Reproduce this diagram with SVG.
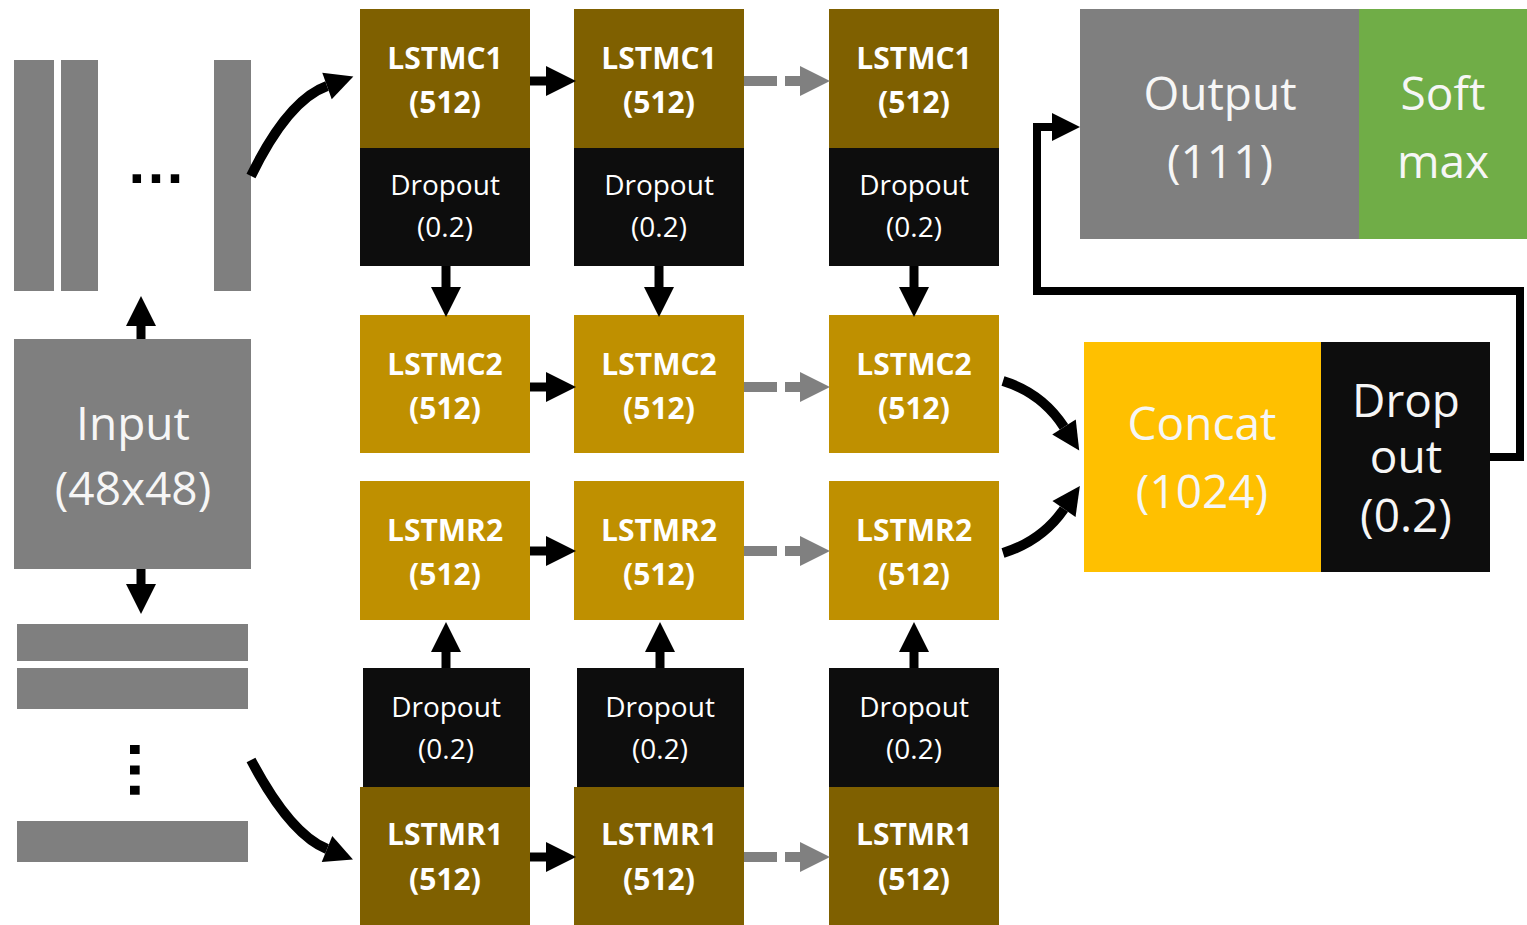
<svg xmlns="http://www.w3.org/2000/svg" width="1527" height="925" viewBox="0 0 1527 925">
  <defs>
    <style>
      .bg { fill: #ffffff; }
      .gray { fill: #7f7f7f; }
      .lstm1 { fill: #7f6000; }
      .lstm2 { fill: #bf9000; }
      .drop { fill: #0d0d0d; }
      .concat { fill: #ffc000; }
      .soft { fill: #70ad47; }
      .lbl { font-family: "Open Sans", "Liberation Sans", sans-serif; fill: #ffffff; text-anchor: middle; }
      .lstm-t { font-size: 30px; font-weight: bold; }
      .drop-t { font-size: 28px; }
      .big-t { font-size: 46px; fill: #f6f6f6; }
      .dots { font-family: "Liberation Sans", sans-serif; font-weight: bold; fill: #000000; text-anchor: middle; }
      .arr { fill: none; stroke: #000000; stroke-width: 9; }
      .curve { fill: none; stroke: #000000; stroke-width: 10; }
      .dash { fill: none; stroke: #808080; stroke-width: 10; stroke-dasharray: 33 8; }
      .loop { fill: none; stroke: #000000; stroke-width: 8; stroke-linejoin: miter; }
    </style>
    <marker id="head" markerUnits="userSpaceOnUse" markerWidth="30" markerHeight="30" refX="0" refY="15" orient="auto" overflow="visible">
      <path d="M0,0 L30,15 L0,30 Z" fill="#000000"/>
    </marker>
    <marker id="head-gray" markerUnits="userSpaceOnUse" markerWidth="30" markerHeight="30" refX="0" refY="15" orient="auto" overflow="visible">
      <path d="M0,0 L30,15 L0,30 Z" fill="#808080"/>
    </marker>
    <marker id="head-s" markerUnits="userSpaceOnUse" markerWidth="28" markerHeight="28" refX="0" refY="14" orient="auto" overflow="visible">
      <path d="M0,0 L28,14 L0,28 Z" fill="#000000"/>
    </marker>
  </defs>

  <rect class="bg" x="0" y="0" width="1527" height="925"/>

  <!-- input image sliced into columns -->
  <g id="col-slices">
    <rect class="gray" x="14" y="60" width="40" height="231"/>
    <rect class="gray" x="61" y="60" width="37" height="231"/>
    <rect class="gray" x="214" y="60" width="37" height="231"/>
    <text class="dots" x="156" y="183" font-size="60">…</text>
  </g>

  <!-- input image -->
  <g id="input">
    <rect class="gray" x="14" y="339" width="237" height="230"/>
    <text class="lbl big-t" x="133" y="440">Input</text>
    <text class="lbl big-t" x="133" y="505">(48x48)</text>
  </g>

  <!-- input image sliced into rows -->
  <g id="row-slices">
    <rect class="gray" x="17" y="624" width="231" height="37"/>
    <rect class="gray" x="17" y="668" width="231" height="41"/>
    <rect class="gray" x="17" y="821" width="231" height="41"/>
    <text class="dots" font-size="64" transform="translate(130,770) rotate(90)">…</text>
  </g>

  <!-- column LSTM, layer 1 with dropout -->
  <g id="lstmc1-a">
    <rect class="lstm1" x="360" y="9" width="170" height="139"/>
    <text class="lbl lstm-t" x="445" y="69">LSTMC1</text>
    <text class="lbl lstm-t" x="445" y="113">(512)</text>
    <rect class="drop" x="360" y="148" width="170" height="118"/>
    <text class="lbl drop-t" x="445" y="195">Dropout</text>
    <text class="lbl drop-t" x="445" y="237">(0.2)</text>
  </g>
  <g id="lstmc1-b">
    <rect class="lstm1" x="574" y="9" width="170" height="139"/>
    <text class="lbl lstm-t" x="659" y="69">LSTMC1</text>
    <text class="lbl lstm-t" x="659" y="113">(512)</text>
    <rect class="drop" x="574" y="148" width="170" height="118"/>
    <text class="lbl drop-t" x="659" y="195">Dropout</text>
    <text class="lbl drop-t" x="659" y="237">(0.2)</text>
  </g>
  <g id="lstmc1-c">
    <rect class="lstm1" x="829" y="9" width="170" height="139"/>
    <text class="lbl lstm-t" x="914" y="69">LSTMC1</text>
    <text class="lbl lstm-t" x="914" y="113">(512)</text>
    <rect class="drop" x="829" y="148" width="170" height="118"/>
    <text class="lbl drop-t" x="914" y="195">Dropout</text>
    <text class="lbl drop-t" x="914" y="237">(0.2)</text>
  </g>

  <!-- column LSTM, layer 2 -->
  <g id="lstmc2-a">
    <rect class="lstm2" x="360" y="315" width="170" height="138"/>
    <text class="lbl lstm-t" x="445" y="375">LSTMC2</text>
    <text class="lbl lstm-t" x="445" y="419">(512)</text>
  </g>
  <g id="lstmc2-b">
    <rect class="lstm2" x="574" y="315" width="170" height="138"/>
    <text class="lbl lstm-t" x="659" y="375">LSTMC2</text>
    <text class="lbl lstm-t" x="659" y="419">(512)</text>
  </g>
  <g id="lstmc2-c">
    <rect class="lstm2" x="829" y="315" width="170" height="138"/>
    <text class="lbl lstm-t" x="914" y="375">LSTMC2</text>
    <text class="lbl lstm-t" x="914" y="419">(512)</text>
  </g>

  <!-- row LSTM, layer 2 -->
  <g id="lstmr2-a">
    <rect class="lstm2" x="360" y="481" width="170" height="139"/>
    <text class="lbl lstm-t" x="445" y="541">LSTMR2</text>
    <text class="lbl lstm-t" x="445" y="585">(512)</text>
  </g>
  <g id="lstmr2-b">
    <rect class="lstm2" x="574" y="481" width="170" height="139"/>
    <text class="lbl lstm-t" x="659" y="541">LSTMR2</text>
    <text class="lbl lstm-t" x="659" y="585">(512)</text>
  </g>
  <g id="lstmr2-c">
    <rect class="lstm2" x="829" y="481" width="170" height="139"/>
    <text class="lbl lstm-t" x="914" y="541">LSTMR2</text>
    <text class="lbl lstm-t" x="914" y="585">(512)</text>
  </g>

  <!-- row LSTM, layer 1 with dropout -->
  <g id="lstmr1-a">
    <rect class="drop" x="363" y="668" width="167" height="119"/>
    <text class="lbl drop-t" x="446" y="717">Dropout</text>
    <text class="lbl drop-t" x="446" y="759">(0.2)</text>
    <rect class="lstm1" x="360" y="787" width="170" height="138"/>
    <text class="lbl lstm-t" x="445" y="845">LSTMR1</text>
    <text class="lbl lstm-t" x="445" y="890">(512)</text>
  </g>
  <g id="lstmr1-b">
    <rect class="drop" x="577" y="668" width="167" height="119"/>
    <text class="lbl drop-t" x="660" y="717">Dropout</text>
    <text class="lbl drop-t" x="660" y="759">(0.2)</text>
    <rect class="lstm1" x="574" y="787" width="170" height="138"/>
    <text class="lbl lstm-t" x="659" y="845">LSTMR1</text>
    <text class="lbl lstm-t" x="659" y="890">(512)</text>
  </g>
  <g id="lstmr1-c">
    <rect class="drop" x="829" y="668" width="170" height="119"/>
    <text class="lbl drop-t" x="914" y="717">Dropout</text>
    <text class="lbl drop-t" x="914" y="759">(0.2)</text>
    <rect class="lstm1" x="829" y="787" width="170" height="138"/>
    <text class="lbl lstm-t" x="914" y="845">LSTMR1</text>
    <text class="lbl lstm-t" x="914" y="890">(512)</text>
  </g>

  <!-- merge and dropout -->
  <g id="concat">
    <rect class="concat" x="1084" y="342" width="237" height="230"/>
    <text class="lbl big-t" x="1202" y="440">Concat</text>
    <text class="lbl big-t" x="1202" y="508">(1024)</text>
    <rect class="drop" x="1321" y="342" width="169" height="230"/>
    <text class="lbl big-t" x="1406" y="417">Drop</text>
    <text class="lbl big-t" x="1406" y="473">out</text>
    <text class="lbl big-t" x="1406" y="532">(0.2)</text>
  </g>

  <!-- output layer -->
  <g id="output">
    <rect class="gray" x="1080" y="9" width="279" height="230"/>
    <text class="lbl big-t" x="1220" y="110">Output</text>
    <text class="lbl big-t" x="1220" y="178">(111)</text>
    <rect class="soft" x="1359" y="9" width="168" height="230"/>
    <text class="lbl big-t" x="1443" y="110">Soft</text>
    <text class="lbl big-t" x="1443" y="178">max</text>
  </g>

  <g id="connectors">
    <!-- input to slices -->
    <line class="arr" x1="141" y1="339" x2="141" y2="326" marker-end="url(#head)"/>
    <line class="arr" x1="141" y1="569" x2="141" y2="584" marker-end="url(#head)"/>
    <path class="curve" d="M251,176 Q288,100 327,86" marker-end="url(#head-s)"/>
    <path class="curve" d="M251,760 Q290,834 327,849" marker-end="url(#head-s)"/>

    <!-- step to step, black -->
    <line class="arr" x1="530" y1="81" x2="546" y2="81" marker-end="url(#head)"/>
    <line class="arr" x1="530" y1="387" x2="546" y2="387" marker-end="url(#head)"/>
    <line class="arr" x1="530" y1="551" x2="546" y2="551" marker-end="url(#head)"/>
    <line class="arr" x1="530" y1="857" x2="546" y2="857" marker-end="url(#head)"/>

    <!-- step to step, dashed gray -->
    <line class="dash" x1="744" y1="81" x2="800" y2="81" marker-end="url(#head-gray)"/>
    <line class="dash" x1="744" y1="387" x2="800" y2="387" marker-end="url(#head-gray)"/>
    <line class="dash" x1="744" y1="551" x2="800" y2="551" marker-end="url(#head-gray)"/>
    <line class="dash" x1="744" y1="857" x2="800" y2="857" marker-end="url(#head-gray)"/>

    <!-- layer 1 to layer 2, columns -->
    <line class="arr" x1="446" y1="266" x2="446" y2="287" marker-end="url(#head)"/>
    <line class="arr" x1="659" y1="266" x2="659" y2="287" marker-end="url(#head)"/>
    <line class="arr" x1="914" y1="266" x2="914" y2="287" marker-end="url(#head)"/>

    <!-- layer 1 to layer 2, rows -->
    <line class="arr" x1="446" y1="668" x2="446" y2="652" marker-end="url(#head)"/>
    <line class="arr" x1="660" y1="668" x2="660" y2="652" marker-end="url(#head)"/>
    <line class="arr" x1="914" y1="668" x2="914" y2="652" marker-end="url(#head)"/>

    <!-- into concat -->
    <path class="curve" d="M1003,381 Q1042,393 1064,427" marker-end="url(#head-s)"/>
    <path class="curve" d="M1003,553 Q1042,541 1064,509" marker-end="url(#head-s)"/>

    <!-- dropout back up to output -->
    <path class="loop" d="M1490,457 H1520 V291 H1037 V127 H1052" marker-end="url(#head-s)"/>
  </g>
</svg>
